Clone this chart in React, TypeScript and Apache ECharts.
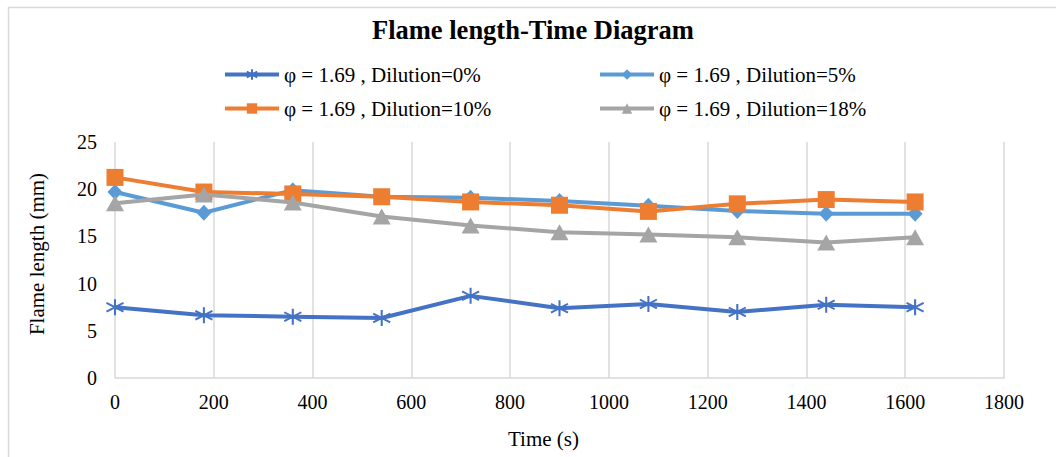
import React, { useEffect, useRef } from "react";
import * as echarts from "echarts";

const times = [0, 180, 360, 540, 720, 900, 1080, 1260, 1440, 1620];
const dilution0 = [7.5, 6.65, 6.5, 6.35, 8.7, 7.4, 7.85, 7.0, 7.75, 7.5];
const dilution5 = [19.7, 17.5, 19.9, 19.2, 19.1, 18.75, 18.25, 17.7, 17.4, 17.4];
const dilution10 = [21.25, 19.7, 19.5, 19.2, 18.65, 18.3, 17.65, 18.45, 18.9, 18.65];
const dilution18 = [18.5, 19.45, 18.6, 17.1, 16.15, 15.45, 15.2, 14.9, 14.35, 14.9];

const seriesNames = [
  "φ = 1.69 , Dilution=0%",
  "φ = 1.69 , Dilution=5%",
  "φ = 1.69 , Dilution=10%",
  "φ = 1.69 , Dilution=18%",
];
const titleText = "Flame length-Time Diagram";
const xName = "Time (s)";
const yName = "Flame length (mm)";

const FONT = '"Liberation Serif", "Times New Roman", serif';
const STAR = "path://M10,0L10,20M1.5,4.5L18.5,15.5M1.5,15.5L18.5,4.5";

export default function App() {
  const ref = useRef<HTMLDivElement>(null);
  useEffect(() => {
    const chart = echarts.init(ref.current!, null, { renderer: "svg" });
    const pair = (vals: number[]) => times.map((t, i) => [t, vals[i]]);
    const colors = ["#4472C4", "#5B9BD5", "#ED7D31", "#A5A5A5"];
    const symbols = [STAR, "diamond", "rect", "triangle"];
    const sizes: any[] = [[17, 16], [15, 16], 17, [18, 16]];
    const values = [dilution0, dilution5, dilution10, dilution18];
    const legendPos = [
      { left: 223, top: 64 },
      { left: 598, top: 64 },
      { left: 223, top: 98 },
      { left: 598, top: 98 },
    ];
    const option: any = {
      animation: false,
      backgroundColor: "#fff",
      textStyle: { fontFamily: FONT, color: "#000" },
      title: {
        text: titleText,
        left: 372,
        top: 14,
        padding: 0,
        textStyle: { fontFamily: FONT, fontSize: 26.5, fontWeight: "bold", color: "#000", lineHeight: 32 },
      },
      graphic: [
        {
          type: "rect",
          shape: { x: 8.5, y: 7.5, width: 1100, height: 500 },
          style: { fill: "none", stroke: "#d9d9d9", lineWidth: 1.5 },
          silent: true,
        },
      ],
      legend: seriesNames.map((n, i) => ({
        data: [n],
        left: legendPos[i].left,
        top: legendPos[i].top,
        padding: 0,
        itemWidth: 54,
        itemHeight: 13,
        lineStyle: { width: 4 },
        textStyle: { fontFamily: FONT, fontSize: 21, color: "#000" },
      })),
      grid: { left: 115, right: 52, top: 142, bottom: 79 },
      xAxis: {
        type: "value",
        min: 0,
        max: 1800,
        interval: 200,
        name: xName,
        nameLocation: "middle",
        nameGap: 50,
        nameTextStyle: { fontFamily: FONT, fontSize: 21, color: "#000", padding: [0, 32, 0, 0] },
        axisLine: { show: true, lineStyle: { color: "#d9d9d9", width: 1.5 } },
        axisTick: { show: false },
        axisLabel: {
          fontFamily: FONT,
          fontSize: 20,
          color: "#000",
          margin: 14,
          formatter: (v: number) => String(v),
        },
        splitLine: { show: true, lineStyle: { color: "#d9d9d9", width: 1.5 } },
      },
      yAxis: {
        type: "value",
        min: 0,
        max: 25,
        interval: 5,
        name: yName,
        nameLocation: "middle",
        nameGap: 68,
        nameTextStyle: { fontFamily: FONT, fontSize: 21, color: "#000", padding: [0, 0, 0, 12] },
        axisLine: { show: false },
        axisTick: { show: false },
        axisLabel: { fontFamily: FONT, fontSize: 20, color: "#000", margin: 18 },
        splitLine: { show: false },
      },
      series: seriesNames.map((n, i) => ({
        name: n,
        type: "line",
        data: pair(values[i]),
        symbol: symbols[i],
        symbolSize: sizes[i],
        showAllSymbol: true,
        lineStyle: { color: colors[i], width: 4 },
        itemStyle:
          i === 0
            ? { color: colors[i], borderColor: colors[i], borderWidth: 2 }
            : { color: colors[i], borderWidth: 0 },
        emphasis: { disabled: true },
        z: 2 + i,
      })),
    };
    chart.setOption(option);
    return () => chart.dispose();
  }, []);
  return (
    <div
      ref={ref}
      style={{ position: "absolute", left: 0, top: 0, width: 1056, height: 457 }}
    />
  );
}
